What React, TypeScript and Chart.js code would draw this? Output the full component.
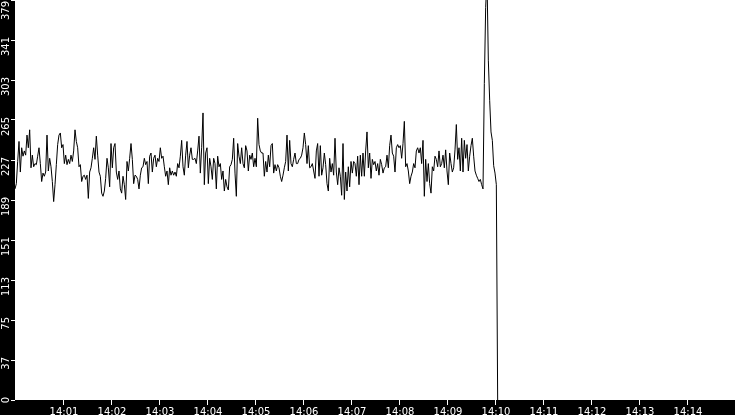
import React, { useEffect, useRef } from 'react';
import { Chart, registerables } from 'chart.js';

Chart.register(...registerables);

// readings, one sample every 1/36 minute starting at 14:00
const samplesA = [
    200, 205, 226, 245, 216, 239, 231, 236, 232, 251, 239, 256, 220, 232, 221, 224,
    223, 231, 239, 224, 207, 215, 212, 216, 251, 217, 229, 221, 207, 188, 204, 223,
    242, 251, 253, 239, 242, 224, 232, 223, 228, 224, 232, 226, 236, 256, 245, 239,
    221, 223, 207, 212, 213, 209, 213, 191, 216, 220, 229, 239, 228, 250, 232, 216,
    212, 196, 193, 198, 210, 229, 220, 202, 243, 220, 239, 243, 216, 209, 217, 200,
    196, 212, 204, 190, 226, 217, 229, 243, 228, 205, 213, 212, 209, 200
];
const samplesB = [
    213, 220, 221, 229, 223, 226, 205, 231, 234, 216, 229, 232, 221, 229, 226, 239,
    229, 231, 221, 212, 217, 204, 220, 213, 217, 213, 216, 212, 224, 220, 231, 246,
    221, 213, 232, 245, 220, 232, 239, 228, 228, 229, 224, 236, 250, 215, 239, 272,
    204, 234, 239, 205, 229, 221, 209, 229, 224, 200, 231, 221, 224, 209, 217, 198,
    209, 202, 199, 221, 223, 228, 248, 215, 193, 243, 231, 224, 239, 224, 220, 241,
    236, 217, 232, 228, 234, 221, 229, 221, 267, 242, 236, 234
];
const samplesC = [
    234, 212, 226, 216, 232, 221, 241, 243, 215, 223, 217, 223, 220, 212, 207, 213,
    220, 226, 251, 217, 246, 224, 221, 228, 234, 224, 224, 228, 229, 232, 239, 253,
    242, 224, 241, 220, 221, 224, 217, 210, 236, 243, 212, 241, 213, 220, 234, 223,
    205, 198, 229, 216, 224, 213, 248, 216, 204, 220, 212, 194, 243, 190, 216, 198,
    221, 202, 226, 215, 226, 224, 212, 231, 204, 232, 212, 234, 212, 236, 254, 220,
    234, 210, 228, 223, 226, 217, 224, 213, 228, 223, 215, 220
];
const samplesD = [
    221, 232, 220, 241, 251, 234, 231, 216, 239, 242, 239, 241, 229, 243, 264, 221,
    224, 217, 205, 212, 216, 224, 220, 236, 239, 234, 239, 224, 246, 193, 228, 207,
    224, 205, 196, 221, 217, 231, 228, 221, 236, 221, 224, 232, 220, 237, 217, 204,
    234, 224, 216, 220, 237, 261, 228, 239, 217, 248, 216, 246, 229, 242, 217, 231,
    241, 248, 231, 217, 213, 210, 207, 209, 204, 200
];
const samplesSpike = [300, 372, 400, 322, 284, 254, 246, 222, 215, 204, 0];

const samplesPerMinute = 36;

const xTickLabels = [
    '14:01', '14:02', '14:03', '14:04', '14:05', '14:06', '14:07',
    '14:08', '14:09', '14:10', '14:11', '14:12', '14:13', '14:14'
];
const yTickLabels = ['0', '37', '75', '113', '151', '189', '227', '265', '303', '341', '379'];
const yMax = 379;

const tickFont = { family: 'DejaVu Sans', size: 10 };

const App: React.FC = () => {
    const canvasRef = useRef<HTMLCanvasElement | null>(null);

    useEffect(() => {
        document.body.style.margin = '0';
        if (!canvasRef.current) return;

        const values = [...samplesA, ...samplesB, ...samplesC, ...samplesD, ...samplesSpike];
        const points = values.map((v, i) => ({ x: i / samplesPerMinute, y: v }));

        // black frame with a white plotting area
        const frame = {
            id: 'frame',
            beforeDraw(chart: Chart) {
                const { ctx, chartArea, width, height } = chart;
                ctx.save();
                ctx.fillStyle = '#000';
                ctx.fillRect(0, 0, width, height);
                ctx.fillStyle = '#fff';
                ctx.fillRect(chartArea.left, chartArea.top, chartArea.right - chartArea.left, chartArea.bottom - chartArea.top);
                ctx.restore();
            }
        };

        // rotated y labels, read bottom to top
        const yLabels = {
            id: 'yLabels',
            afterDraw(chart: Chart) {
                const { ctx } = chart;
                const scale = chart.scales.y;
                ctx.save();
                ctx.fillStyle = '#fff';
                ctx.font = `${tickFont.size}px ${tickFont.family}`;
                ctx.textAlign = 'right';
                ctx.textBaseline = 'middle';
                scale.ticks.forEach((t, i) => {
                    const py = Math.max(1, scale.getPixelForValue(t.value) - 3);
                    ctx.save();
                    ctx.translate(6.5, py);
                    ctx.rotate(-Math.PI / 2);
                    ctx.fillText(yTickLabels[i], 0, 0);
                    ctx.restore();
                });
                ctx.restore();
            }
        };

        const chart = new Chart(canvasRef.current, {
            type: 'line',
            data: {
                datasets: [{
                    data: points,
                    borderColor: '#000',
                    borderWidth: 1,
                    pointRadius: 0,
                    tension: 0,
                    fill: false,
                }]
            },
            options: {
                responsive: false,
                animation: false,
                layout: { padding: 0 },
                plugins: {
                    legend: { display: false },
                    tooltip: { enabled: false },
                },
                scales: {
                    x: {
                        type: 'linear',
                        min: 0,
                        max: 15,
                        afterBuildTicks: (scale: any) => {
                            scale.ticks = xTickLabels.map((_, i) => ({ value: i + 1 }));
                        },
                        afterFit: (scale: any) => { scale.height = 15; },
                        ticks: {
                            color: '#fff',
                            font: tickFont,
                            padding: 1,
                            labelOffset: 1,
                            maxRotation: 0,
                            autoSkip: false,
                            callback: (_v: any, i: number) => xTickLabels[i],
                        },
                        grid: { drawOnChartArea: false, color: '#fff', tickLength: 5 },
                        border: { display: false },
                    },
                    y: {
                        type: 'linear',
                        min: 0,
                        max: yMax,
                        afterBuildTicks: (scale: any) => {
                            scale.ticks = yTickLabels.map((_, i) => ({ value: (yMax / 10) * i }));
                        },
                        afterFit: (scale: any) => { scale.width = 15; },
                        ticks: { display: false },
                        grid: { drawOnChartArea: false, color: '#fff', tickLength: 4 },
                        border: { display: false },
                    }
                }
            },
            plugins: [frame, yLabels]
        });

        return () => chart.destroy();
    }, []);

    return <canvas ref={canvasRef} width={735} height={415} style={{ display: 'block' }} />;
};

export default App;
